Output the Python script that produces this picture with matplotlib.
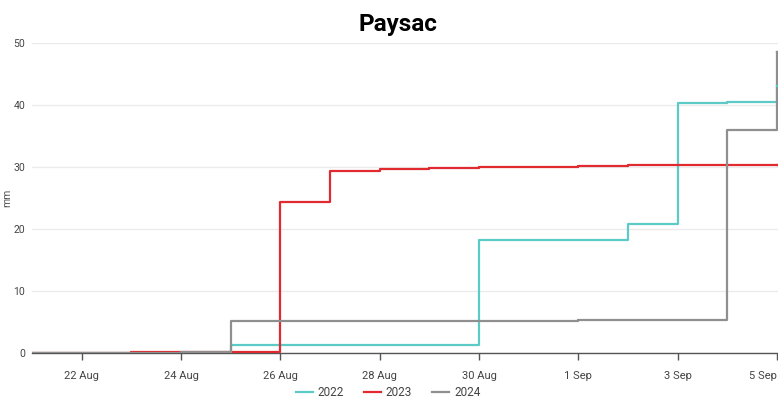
import matplotlib
matplotlib.use("Agg")
import matplotlib.pyplot as plt
import pandas as pd

dates = pd.date_range("2022-08-21", "2022-09-05", freq="D")
rain_2022 = [0, 0, 0, 0, 1.3, 1.3, 1.3, 1.3, 1.3, 18.2, 18.2, 18.2, 20.8, 40.4, 40.5, 43.0]
rain_2023 = [0, 0, 0.2, 0.2, 0.2, 24.4, 29.4, 29.6, 29.9, 30.0, 30.0, 30.2, 30.3, 30.3, 30.3, 30.3]
rain_2024 = [0, 0, 0, 0.2, 5.2, 5.2, 5.2, 5.2, 5.2, 5.2, 5.2, 5.4, 5.4, 5.4, 36.0, 48.6]
series_labels = ["2022", "2023", "2024"]
tick_dates = ["2022-08-22", "2022-08-24", "2022-08-26", "2022-08-28", "2022-08-30",
              "2022-09-01", "2022-09-03", "2022-09-05"]
tick_labels = ["22 Aug", "24 Aug", "26 Aug", "28 Aug", "30 Aug", "1 Sep", "3 Sep", "5 Sep"]
y_ticks = [0, 10, 20, 30, 40, 50]

colors = ["#5ccbc8", "#e02a2f", "#8f8f8f"]

plt.rcParams['font.family'] = ['Roboto', 'DejaVu Sans']
fig = plt.figure(figsize=(7.78, 4.03), dpi=100)
ax = fig.add_axes([32/778, 1 - 353/403, (778 - 32)/778, (353 - 43)/403])

for vals, lab, c in zip([rain_2022, rain_2023, rain_2024], series_labels, colors):
    ax.step(dates, vals, where="post", color=c, lw=1.6, label=lab, zorder=3)
for vals, c in zip([rain_2022, rain_2023, rain_2024], colors):
    ax.plot([dates[-1], dates[-1] + pd.Timedelta(hours=1)], [vals[-1], vals[-1]], color=c, lw=1.6, zorder=3)

ax.set_xlim(dates[0], dates[-1] + pd.Timedelta(hours=0.5))
ax.set_ylim(0, 50)
ax.set_yticks(y_ticks)
ax.set_yticklabels([str(v) for v in y_ticks])
ax.set_xticks([pd.Timestamp(d) for d in tick_dates])
ax.set_xticklabels(tick_labels)
ax.get_xticklabels()[-1].set_horizontalalignment("right")

ax.grid(axis="y", color="#ebebeb", lw=1)
ax.set_axisbelow(True)
for s in ["top", "right", "left"]:
    ax.spines[s].set_visible(False)
ax.spines["bottom"].set_color("#555555")
ax.spines["bottom"].set_linewidth(1)
ax.tick_params(axis="x", colors="#555555", labelcolor="#444444", labelsize=8, length=5, width=1, pad=8)
ax.tick_params(axis="y", length=0, labelcolor="#444444", labelsize=7.5, pad=5)
ax.set_ylabel("mm", fontsize=7.5, color="#555555", labelpad=1)

fig.text(398/778, 1 - 25/403, "Paysac", ha="center", va="center", fontsize=17.5, fontweight="bold", color="black")

leg = fig.legend(*ax.get_legend_handles_labels(), loc="center", bbox_to_anchor=(388/778, 1 - 393/403),
                 ncol=3, frameon=False, fontsize=8.5, handlelength=1.45, columnspacing=1.7, handletextpad=0.4)
for t in leg.get_texts():
    t.set_color("#444444")

fig.savefig("out.png", dpi=100)
